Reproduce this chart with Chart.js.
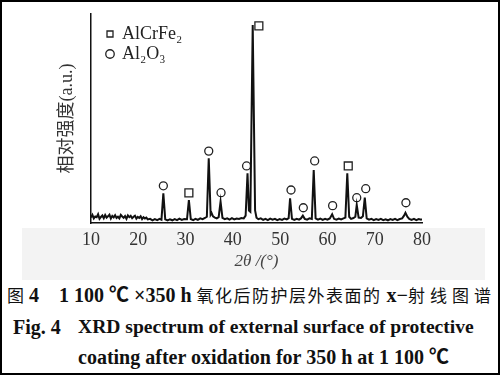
<!DOCTYPE html>
<html>
<head>
<meta charset="utf-8">
<script src="https://cdn.jsdelivr.net/npm/chart.js@4"></script>
<style>
    body { margin: 0; background: #fff; }
    #page { position: relative; width: 500px; height: 375px; overflow: hidden; }
    #shade { position: absolute; left: 22px; top: 228px; width: 463px; height: 52px; background: #f3f3f3; }
    #chart { position: absolute; left: 0; top: 0; }
    #frame { position: absolute; left: 0; top: 0; width: 500px; height: 375px; box-sizing: border-box; border: 2px solid #000; pointer-events: none; }
    .cap { position: absolute; white-space: pre; color: #111; font-family: "Liberation Serif", "Noto Sans CJK SC", serif; font-weight: bold; font-size: 20px; line-height: 22px; }
    .cn { font-family: "Noto Sans CJK SC", sans-serif; font-weight: normal; font-size: 17px; }
</style>
</head>
<body>
<div id="page">
    <div id="shade"></div>
    <canvas id="chart" width="500" height="280"></canvas>
    <div class="cap" style="left:7px; top:284px;"><span class="cn">图</span> 4    1 100 ℃ ×350 h <span class="cn" style="letter-spacing:1.5px">氧化后防护层外表面的</span> x−<span class="cn" style="letter-spacing:5px">射线图谱</span></div>
    <div class="cap" style="left:13px; top:316px;">Fig. 4</div>
    <div class="cap" style="left:78px; top:316px; font-size:19.6px;">XRD spectrum of external surface of protective</div>
    <div class="cap" style="left:78px; top:346px;">coating after oxidation for 350 h at 1 100 ℃</div>
    <div id="frame"></div>
</div>
<script>
    // 2theta (deg) / relative intensity
    const twoTheta = [
        10.0, 10.3, 10.6, 10.9, 11.2, 11.5, 11.8, 12.1, 12.4, 12.7, 13.0, 13.3, 13.6, 13.9, 14.2, 14.5, 14.8,
        15.1, 15.4, 15.7, 16.0, 16.3, 16.6, 16.9, 17.2, 17.5, 17.8, 18.1, 18.4, 18.7, 19.0, 19.3, 19.6, 19.9,
        20.2, 20.5, 20.8, 21.1, 21.4, 21.7, 22.0, 22.5, 23.0, 23.5, 24.0, 24.5, 24.9, 25.3, 25.7, 26.2, 26.7,
        27.2, 27.7, 28.2, 28.7, 29.2, 29.7, 30.3, 30.7, 31.1, 31.6, 32.1, 32.6, 33.1, 33.6, 34.1, 34.5, 34.9,
        35.3, 35.5, 35.8, 36.2, 36.6, 37.0, 37.4, 37.8, 38.3, 38.8, 39.3, 39.8, 40.3, 40.8, 41.3, 41.8, 42.3,
        42.7, 43.1, 43.4, 43.7, 44.2, 44.7, 45.0, 45.4, 45.9, 46.4, 46.9, 47.4, 47.9, 48.4, 48.9, 49.4, 49.9,
        50.4, 50.9, 51.4, 51.8, 52.1, 52.5, 53.0, 53.5, 54.0, 54.4, 54.8, 55.2, 55.7, 56.2, 56.7, 57.1, 57.5,
        58.0, 58.5, 59.0, 59.5, 60.0, 60.5, 61.0, 61.4, 61.9, 62.4, 62.9, 63.4, 63.8, 64.2, 64.6, 65.0, 65.5,
        65.9, 66.2, 66.6, 67.1, 67.5, 67.9, 68.3, 68.8, 69.3, 69.8, 70.3, 70.8, 71.3, 71.8, 72.3, 72.8, 73.3,
        73.8, 74.3, 74.8, 75.3, 75.8, 76.2, 76.5, 76.9, 77.3, 77.8, 78.3, 78.8, 79.3, 79.8, 80.0
    ];
    const intensity = [
        2.6, 3.9, 2.2, 3.1, 2.8, 4.2, 2.0, 2.9, 3.6, 2.3, 3.8, 2.6, 3.2, 4.0, 2.1, 3.4, 2.7,
        3.7, 2.4, 3.0, 2.2, 3.9, 3.1, 2.5, 3.3, 2.0, 3.6, 2.8, 3.4, 2.3, 3.0, 3.5, 2.1, 2.9,
        2.4, 3.2, 1.9, 2.8, 2.2, 2.6, 1.7, 2.0, 1.3, 1.9, 1.4, 2.0, 1.6, 14.2, 1.7, 1.2, 1.8,
        1.3, 1.9, 1.4, 2.1, 1.5, 1.9, 1.8, 11.0, 1.9, 1.4, 2.0, 1.5, 2.2, 1.8, 2.4, 3.0, 31.0,
        4.0, 4.8, 3.2, 2.6, 2.2, 2.8, 10.2, 2.4, 1.8, 2.2, 1.6, 2.3, 1.7, 2.1, 1.9, 2.4, 2.2,
        3.5, 23.8, 6.0, 5.4, 94.7, 6.0, 2.5, 1.8, 2.2, 1.5, 2.0, 1.4, 2.1, 1.6, 2.0, 1.4, 1.9,
        1.5, 2.1, 1.7, 2.3, 11.8, 2.0, 1.5, 2.0, 1.6, 2.2, 3.5, 2.0, 1.6, 2.2, 1.9, 25.4, 2.2,
        1.6, 2.1, 1.5, 2.0, 1.6, 2.2, 4.2, 2.0, 1.6, 2.1, 1.7, 2.2, 2.6, 23.8, 3.0, 2.0, 2.4,
        3.0, 8.6, 2.6, 2.4, 3.2, 12.1, 2.2, 1.6, 2.0, 1.4, 1.9, 1.5, 2.0, 1.4, 1.8, 1.3, 1.9,
        1.5, 2.0, 1.4, 1.9, 2.2, 3.5, 4.9, 3.0, 2.0, 1.5, 2.0, 1.4, 1.9, 1.6, 1.8
    ];

    // phase markers above the peaks
    const alcrfeX = [30.7, 45.5, 64.4];
    const alcrfeY = [14.4, 94.3, 27.3];
    const al2o3X = [25.3, 34.9, 37.5, 42.9, 52.3, 54.9, 57.3, 61.1, 66.2, 68.1, 76.6];
    const al2o3Y = [17.8, 34.4, 14.5, 27.3, 15.8, 7.3, 29.7, 8.3, 12.1, 16.4, 9.7];

    const xTicks = [10, 20, 30, 40, 50, 60, 70, 80];
    const phaseNames = ['AlCrFe₂', 'Al₂O₃'];

    const serif = '"Liberation Serif", "Noto Sans CJK SC", serif';

    const toPoints = (xs, ys) => xs.map((x, i) => ({x: x, y: ys[i]}));

    // put the legend in the upper left corner of the plot
    const legendSpot = {
        id: 'legendSpot',
        afterLayout(chart) {
            chart.legend.left = chart.chartArea.left + 14;
            chart.legend.top = chart.chartArea.top + 9;
        }
    };

    new Chart(document.getElementById('chart'), {
        type: 'scatter',
        data: {
            datasets: [{
                label: 'spectrum',
                data: toPoints(twoTheta, intensity),
                showLine: true,
                borderColor: '#111',
                borderWidth: 2,
                pointRadius: 0,
                tension: 0
            }, {
                label: phaseNames[0],
                data: toPoints(alcrfeX, alcrfeY),
                pointStyle: 'rect',
                pointRadius: 5.6,
                borderColor: '#222',
                backgroundColor: '#fff',
                borderWidth: 1.3
            }, {
                label: phaseNames[1],
                data: toPoints(al2o3X, al2o3Y),
                pointStyle: 'circle',
                pointRadius: 4,
                borderColor: '#222',
                backgroundColor: '#fff',
                borderWidth: 1.3
            }]
        },
        options: {
            responsive: false,
            animation: false,
            layout: {padding: {top: 14, right: 78, bottom: 0, left: 0}},
            plugins: {
                tooltip: {enabled: false},
                legend: {
                    position: 'chartArea',
                    align: 'start',
                    labels: {
                        usePointStyle: true,
                        boxWidth: 6,
                        boxHeight: 6,
                        padding: 2,
                        color: '#222',
                        font: {family: serif, size: 18},
                        filter: (item) => item.datasetIndex > 0
                    }
                }
            },
            scales: {
                x: {
                    type: 'linear',
                    min: 10,
                    max: 80,
                    afterFit: (scale) => { scale.height = 57; },
                    afterBuildTicks: (scale) => { scale.ticks = xTicks.map(v => ({value: v})); },
                    grid: {display: false, drawTicks: false},
                    border: {color: '#111', width: 1.5},
                    ticks: {color: '#333', padding: 6, font: {family: serif, size: 18}},
                    title: {
                        display: true,
                        text: '2θ /(°)',
                        color: '#444',
                        padding: {top: 0, bottom: 8},
                        font: {family: serif, size: 17, style: 'italic'}
                    }
                },
                y: {
                    min: 0,
                    max: 100,
                    afterFit: (scale) => { scale.width = 91; },
                    grid: {display: false, drawTicks: false},
                    border: {color: '#111', width: 1.5},
                    ticks: {display: false},
                    title: {
                        display: true,
                        text: '相对强度(a.u.)',
                        color: '#333',
                        padding: {top: 56, bottom: 0},
                        font: {family: serif, size: 18}
                    }
                }
            }
        },
        plugins: [legendSpot]
    });
</script>
</body>
</html>
